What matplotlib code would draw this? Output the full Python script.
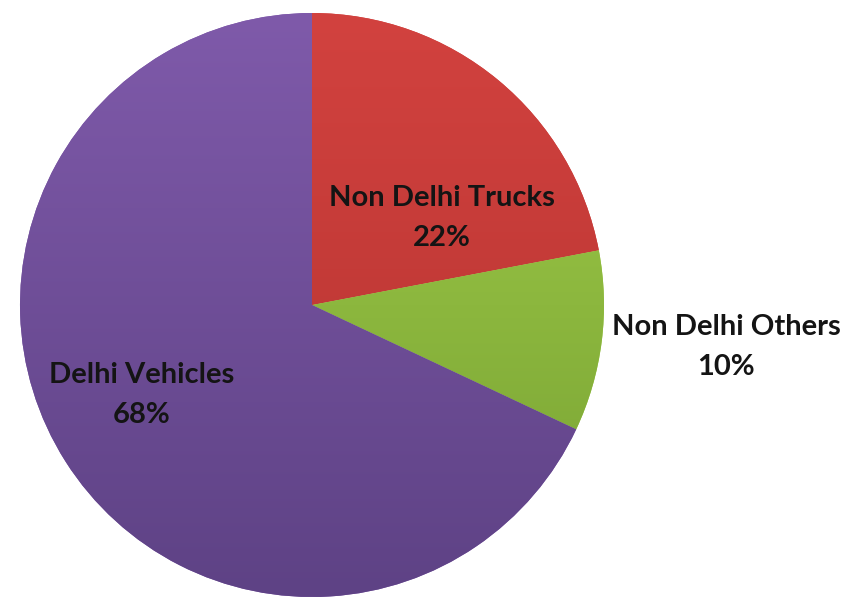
import matplotlib
matplotlib.use("Agg")
import matplotlib.pyplot as plt
import numpy as np
from matplotlib.colors import LinearSegmentedColormap

categories = ["Non Delhi Trucks", "Non Delhi Others", "Delhi Vehicles"]
values = [22, 10, 68]
top_colors = ["#D2423F", "#A2CE4A", "#7F5AAA"]
bottom_colors = ["#B3322F", "#76A032", "#5E4285"]
label_pos = [(0.445, 0.298), (1.418, -0.144), (-0.582, -0.308)]

fig = plt.figure(figsize=(8.63, 6.05), dpi=100)
ax = fig.add_axes([20/863, 8/605, 584/863, 584/605])
wedges, _ = ax.pie(values, startangle=90, counterclock=False, radius=1,
                   colors=top_colors, wedgeprops=dict(linewidth=0))
for w, c0, c1 in zip(wedges, top_colors, bottom_colors):
    cmap = LinearSegmentedColormap.from_list("g", [c1, c0])
    grad = np.linspace(0, 1, 256).reshape(-1, 1)
    im = ax.imshow(grad, extent=[-1, 1, -1, 1], origin="lower", cmap=cmap,
                   aspect="auto", zorder=w.get_zorder() + 0.1)
    im.set_clip_path(w)
ax.set_xlim(-1, 1)
ax.set_ylim(-1, 1)
ax.set_aspect("equal")
ax.axis("off")

for cat, val, (x, y) in zip(categories, values, label_pos):
    ax.text(x, y, f"{cat}\n{val}%", ha="center", va="center", fontsize=21,
            family="Lato", fontweight="bold", color="#141414",
            linespacing=1.65, zorder=10, clip_on=False)

fig.savefig("out.png", dpi=100)
